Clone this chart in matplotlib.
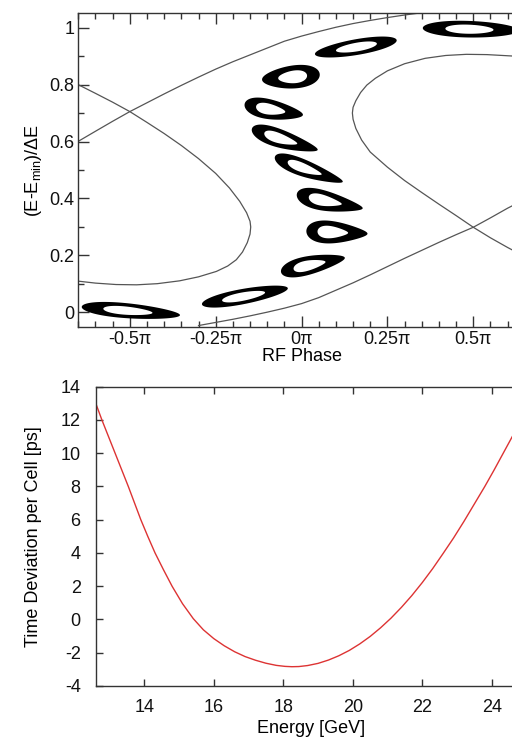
import numpy as np
import matplotlib
matplotlib.use("Agg")
import matplotlib.pyplot as plt
from matplotlib.path import Path
from matplotlib.patches import PathPatch
from matplotlib.ticker import MultipleLocator, FixedLocator

plt.rcParams['font.family'] = ['Liberation Sans', 'DejaVu Sans']
plt.rcParams['font.size'] = 13
plt.rcParams['axes.unicode_minus'] = False
plt.rcParams['mathtext.fontset'] = 'custom'
plt.rcParams['mathtext.rm'] = 'Liberation Sans'
plt.rcParams['mathtext.it'] = 'Liberation Sans'

# ---- longitudinal phase space (phase in units of pi) ----
sep_upper_phase = [-0.651, -0.60, -0.55, -0.50, -0.45, -0.40, -0.35, -0.30, -0.25, -0.20,
                   -0.15, -0.10, -0.05, 0.00, 0.05, 0.10, 0.15, 0.20, 0.25, 0.30, 0.35]
sep_upper_value = [0.600, 0.636, 0.671, 0.705, 0.736, 0.767, 0.797, 0.826, 0.854, 0.880,
                   0.904, 0.928, 0.952, 0.970, 0.986, 1.001, 1.014, 1.025, 1.035, 1.044, 1.052]

sep_left_phase = [-0.651, -0.60, -0.55, -0.50, -0.45, -0.40, -0.35, -0.30, -0.25, -0.21,
                  -0.18, -0.160, -0.150, -0.148, -0.150, -0.158, -0.172, -0.190, -0.215,
                  -0.248, -0.30, -0.355, -0.42, -0.48, -0.54, -0.60, -0.651]
sep_left_value = [0.800, 0.769, 0.738, 0.705, 0.667, 0.628, 0.586, 0.540, 0.488, 0.437,
                  0.390, 0.350, 0.320, 0.300, 0.275, 0.245, 0.212, 0.185, 0.163,
                  0.144, 0.125, 0.111, 0.101, 0.097, 0.098, 0.103, 0.110]

sep_right_phase = [0.66, 0.60, 0.54, 0.48, 0.42, 0.36, 0.30, 0.25, 0.215, 0.19, 0.172,
                   0.158, 0.150, 0.148, 0.150, 0.158, 0.175, 0.20, 0.25, 0.30, 0.35,
                   0.40, 0.45, 0.50, 0.55, 0.60, 0.66]
sep_right_value = [0.897, 0.901, 0.905, 0.906, 0.902, 0.892, 0.873, 0.848, 0.822, 0.798, 0.772,
                   0.743, 0.720, 0.700, 0.678, 0.646, 0.605, 0.563, 0.510, 0.463, 0.421,
                   0.380, 0.340, 0.299, 0.262, 0.228, 0.190]

sep_lower_phase = [-0.30, -0.25, -0.20, -0.15, -0.10, -0.05, 0.00, 0.05, 0.10, 0.15, 0.20,
                   0.25, 0.30, 0.35, 0.40, 0.45, 0.50, 0.55, 0.60, 0.66]
sep_lower_value = [-0.046, -0.035, -0.024, -0.012, 0.001, 0.015, 0.031, 0.052, 0.078, 0.104,
                   0.132, 0.161, 0.190, 0.218, 0.246, 0.273, 0.299, 0.332, 0.366, 0.403]

# bunches: centre phase, centre value, phase half-width, value half-height, chirp, taper
bunch_phase = [0.493, 0.158, -0.031, -0.081, -0.049, 0.021, 0.082, 0.103, 0.033, -0.165, -0.497]
bunch_value = [0.994, 0.931, 0.826, 0.711, 0.606, 0.501, 0.389, 0.281, 0.168, 0.057, 0.005]
bunch_dphase = [0.140, 0.119, 0.084, 0.085, 0.096, 0.099, 0.096, 0.089, 0.093, 0.125, 0.143]
bunch_dvalue = [0.029, 0.028, 0.040, 0.034, 0.032, 0.030, 0.034, 0.037, 0.032, 0.027, 0.026]
bunch_chirp = [-0.03, 0.20, 0.10, -0.20, -0.36, -0.42, -0.24, -0.05, 0.25, 0.22, -0.10]
bunch_taper = [0.10, -0.05, -0.20, 0.35, 0.40, 0.40, 0.45, 0.45, 0.35, 0.10, 0.20]

phase_ticks = [-0.5, -0.25, 0.0, 0.25, 0.5, 0.75]
phase_ticklabels = ['-0.5π', '-0.25π', '0π', '0.25π', '0.5π', '0.75π']
value_ticks = [0, 0.2, 0.4, 0.6, 0.8, 1.0]
value_ticklabels = ['0', '0.2', '0.4', '0.6', '0.8', '1']

# ---- time deviation vs energy ----
energy = [12.61, 12.78, 12.97, 13.16, 13.35, 13.54, 13.72, 13.90, 14.10, 14.31, 14.55,
          14.80, 15.10, 15.41, 15.70, 16.00, 16.30, 16.60, 16.90, 17.20, 17.50, 17.80,
          18.05, 18.25, 18.45, 18.70, 19.00, 19.30, 19.60, 19.90, 20.20, 20.50, 20.80,
          21.10, 21.40, 21.70, 22.00, 22.30, 22.60, 22.90, 23.20, 23.50, 23.80, 24.07,
          24.33, 24.58, 24.85]
time_dev = [12.96, 12.00, 11.00, 10.00, 9.00, 8.00, 7.00, 6.00, 5.00, 4.00, 3.00,
            2.00, 0.95, 0.05, -0.62, -1.15, -1.58, -1.94, -2.23, -2.45, -2.63, -2.76,
            -2.82, -2.84, -2.83, -2.77, -2.64, -2.44, -2.18, -1.86, -1.47, -1.02, -0.50,
            0.08, 0.73, 1.44, 2.22, 3.06, 3.97, 4.90, 5.90, 6.95, 8.00, 9.00,
            10.00, 10.96, 12.00]

energy_ticks = [14, 16, 18, 20, 22, 24]
time_ticks = [-4, -2, 0, 2, 4, 6, 8, 10, 12, 14]

W, H = 512, 741
fig = plt.figure(figsize=(W / 100, H / 100), dpi=100)

spine_col = '#333333'
line_col = '#555555'


def frame(ax):
    for s in ax.spines.values():
        s.set_color(spine_col)
        s.set_linewidth(1.0)
    ax.tick_params(which='both', direction='in', top=True, right=True, color=spine_col,
                   labelcolor='#111111')


# top panel: separatrices and bunches
ax1 = fig.add_axes([78.3 / W, 1 - 326.7 / H, 446.5 / W, (326.7 - 13.3) / H])
frame(ax1)
ax1.set_xlim(-0.65, 0.65)
ax1.set_ylim(-0.05, 1.05)
ax1.xaxis.set_major_locator(FixedLocator(phase_ticks))
ax1.set_xticklabels(phase_ticklabels)
ax1.xaxis.set_minor_locator(MultipleLocator(0.05))
ax1.yaxis.set_major_locator(FixedLocator(value_ticks))
ax1.set_yticklabels(value_ticklabels)
ax1.yaxis.set_minor_locator(MultipleLocator(0.1))
ax1.tick_params(which='major', length=8, width=1.0, pad=3)
ax1.tick_params(which='minor', length=4, width=1.0)

for xs, ys in [(sep_upper_phase, sep_upper_value), (sep_left_phase, sep_left_value),
               (sep_right_phase, sep_right_value), (sep_lower_phase, sep_lower_value)]:
    ax1.plot(xs, ys, color=line_col, lw=0.9, zorder=2)


def ring(pc, vc, dp, dv, chirp, taper, hole_w=0.50, hole_h=0.55):
    t = np.linspace(0, 2 * np.pi, 160)
    ux = np.cos(t)
    uy = np.sin(t) * (1 - taper * np.cos(t))
    ox = pc + dp * ux
    oy = vc + dv * uy + chirp * dp * ux
    shift = -0.30 * taper
    hx = shift + hole_w * ux
    hy = hole_h * np.sin(t) * (1 - taper * np.cos(t))
    ix = pc + dp * hx
    iy = vc + dv * hy + chirp * dp * hx
    verts = np.concatenate([np.column_stack([ox, oy]), np.column_stack([ix[::-1], iy[::-1]])])
    n = len(t)
    codes = ([Path.MOVETO] + [Path.LINETO] * (n - 2) + [Path.CLOSEPOLY]) * 2
    return Path(verts, codes)


for i in range(len(bunch_phase)):
    p = ring(bunch_phase[i], bunch_value[i], bunch_dphase[i], bunch_dvalue[i],
             bunch_chirp[i], bunch_taper[i])
    ax1.add_patch(PathPatch(p, facecolor='black', edgecolor='none', zorder=3))

ax1.set_xlabel('RF Phase', labelpad=0)
ax1.set_ylabel(r'(E-E$_{\rm min}$)/ΔE')
ax1.yaxis.set_label_coords((44 - 78.3) / 446.5, 0.5)

# bottom panel: time deviation curve
ax2 = fig.add_axes([96 / W, 1 - 686 / H, 430.5 / W, (686 - 386.7) / H])
frame(ax2)
ax2.set_xlim(12.61, 25.0)
ax2.set_ylim(-4, 14)
ax2.xaxis.set_major_locator(FixedLocator(energy_ticks))
ax2.yaxis.set_major_locator(FixedLocator(time_ticks))
ax2.tick_params(axis='y', which='major', length=5, width=1.0, pad=11)
ax2.tick_params(axis='x', which='major', length=5, width=1.0, pad=9)
ax2.plot(energy, time_dev, color='#dd3333', lw=1.0, zorder=2)
ax2.set_xlabel('Energy [GeV]', labelpad=3)
ax2.set_ylabel('Time Deviation per Cell [ps]')
ax2.yaxis.set_label_coords((42 - 96) / 430.5, 0.5)

fig.savefig('out.png', dpi=100)
